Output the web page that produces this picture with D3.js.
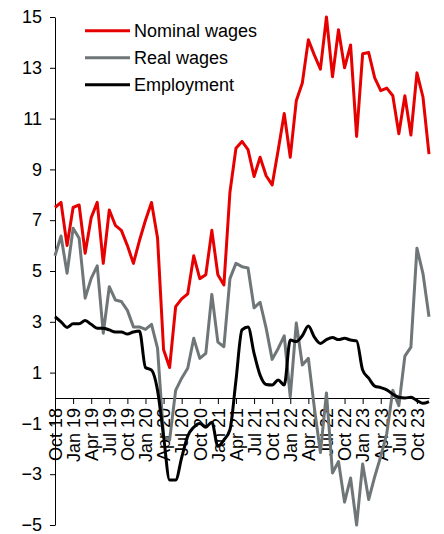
<!DOCTYPE html>
<html>
<head>
<meta charset="utf-8">
<script src="https://cdn.jsdelivr.net/npm/d3@7"></script>
<style>
  body { margin: 0; background: #fff; }
  svg { display: block; font-family: "Liberation Sans", Arial, sans-serif; }
  .axis text { font-size: 18px; fill: #000; font-family: "Liberation Sans", Arial, sans-serif; }
  .axis path, .axis line { stroke: #000; stroke-width: 1; }
  .legend text { font-size: 18px; fill: #000; }
</style>
</head>
<body>
<svg id="chart" width="444" height="534"></svg>
<script>
// monthly, Oct 2018 .. Dec 2023
var months = [
  "2018-10","2018-11","2018-12",
  "2019-01","2019-02","2019-03","2019-04","2019-05","2019-06","2019-07","2019-08","2019-09","2019-10","2019-11","2019-12",
  "2020-01","2020-02","2020-03","2020-04","2020-05","2020-06","2020-07","2020-08","2020-09","2020-10","2020-11","2020-12",
  "2021-01","2021-02","2021-03","2021-04","2021-05","2021-06","2021-07","2021-08","2021-09","2021-10","2021-11","2021-12",
  "2022-01","2022-02","2022-03","2022-04","2022-05","2022-06","2022-07","2022-08","2022-09","2022-10","2022-11","2022-12",
  "2023-01","2023-02","2023-03","2023-04","2023-05","2023-06","2023-07","2023-08","2023-09","2023-10","2023-11","2023-12"
]

var nominalWages = [7.5, 7.7, 6.0, 7.5, 7.6, 5.7, 7.1, 7.7, 5.3, 7.4,
  6.8, 6.6, 6.0, 5.3, 6.2, 7.0, 7.7, 6.3, 1.9, 1.2,
  3.6, 3.9, 4.1, 5.6, 4.7, 4.85, 6.6, 4.85, 4.45, 8.1,
  9.83, 10.1, 9.78, 8.72, 9.48, 8.75, 8.39, 9.76, 11.2, 9.48,
  11.7, 12.4, 14.1, 13.5, 12.95, 15.0, 12.65, 14.5, 13.0, 13.9,
  10.3, 13.55, 13.6, 12.6, 12.1, 12.2, 11.9, 10.4, 11.9, 10.35,
  12.8, 11.85, 9.6]

var realWages = [5.6, 6.38, 4.91, 6.68, 6.29, 3.93, 4.71, 5.2, 2.55, 4.38,
  3.86, 3.8, 3.45, 2.8, 2.8, 2.7, 2.9, 1.95, -1.52, -1.65,
  0.3, 0.78, 1.17, 2.35, 1.56, 1.76, 4.08, 2.2, 2.02, 4.7,
  5.3, 5.17, 5.12, 3.55, 3.77, 2.75, 1.52, 1.95, 2.45, 0.05,
  2.95, 1.3, 1.56, -0.4, -2.15, 0.2, -2.95, -2.5, -4.1, -3.15,
  -5.0, -2.6, -4.0, -3.1, -2.3, -1.4, 0.3, -0.3, 1.65, 2.0,
  5.9, 4.9, 3.2]

var employment = [3.2, 3.0, 2.78, 2.92, 2.92, 3.05, 2.9, 2.75, 2.75, 2.68,
  2.6, 2.6, 2.52, 2.6, 2.64, 1.2, 1.1, 0.3, -1.5, -3.23,
  -3.23, -2.35, -1.5, -1.15, -1.0, -1.15, -0.95, -1.9, -1.65, -1.25,
  0.7, 2.68, 2.8, 1.76, 0.9, 0.53, 0.51, 0.71, 0.51, 2.28,
  2.22, 2.45, 2.83, 2.4, 2.15, 2.3, 2.38, 2.3, 2.35, 2.28,
  2.25, 1.1, 0.78, 0.47, 0.41, 0.32, 0.15, 0.03, 0.0, 0.03,
  -0.1, -0.21, -0.14]

var tickMonths = ["2018-10","2019-01","2019-04","2019-07","2019-10","2020-01","2020-04","2020-07","2020-10",
  "2021-01","2021-04","2021-07","2021-10","2022-01","2022-04","2022-07","2022-10","2023-01","2023-04","2023-07","2023-10"]
var tickLabels = ["Oct 18","Jan 19","Apr 19","Jul 19","Oct 19","Jan 20","Apr 20","Jul 20","Oct 20",
  "Jan 21","Apr 21","Jul 21","Oct 21","Jan 22","Apr 22","Jul 22","Oct 22","Jan 23","Apr 23","Jul 23","Oct 23"]
var yTicks = [-5, -3, -1, 1, 3, 5, 7, 9, 11, 13, 15]

var seriesNames = ["Nominal wages", "Real wages", "Employment"]
var seriesColors = ["#e60000", "#6f7678", "#000000"]

var svg = d3.select("#chart")

var xScale = d3.scalePoint()
    .domain(months)
    .range([55, 429]);

var yScale = d3.scaleLinear()
    .domain([-5, 15])
    .range([525, 17]);

// y axis
var yAxis = d3.axisLeft(yScale)
    .tickValues(yTicks)
    .tickSize(5)
    .tickSizeOuter(0)
    .tickPadding(8);

svg.append("g")
    .attr("class", "axis yaxis")
    .attr("transform", "translate(55,0)")
    .call(yAxis);

// x axis sits on zero
var xAxis = d3.axisBottom(xScale)
    .tickValues(tickMonths)
    .tickSize(6)
    .tickSizeOuter(0)
    .tickFormat((d, i) => tickLabels[i]);

var xg = svg.append("g")
    .attr("class", "axis xaxis")
    .attr("transform", "translate(0," + yScale(0) + ")")
    .call(xAxis);

xg.selectAll("text")
    .attr("transform", "rotate(-90)")
    .attr("x", -10)
    .attr("y", 0)
    .attr("dy", "0.35em")
    .style("text-anchor", "end");

// lines
var allSeries = [nominalWages, realWages, employment]

allSeries.forEach(function(values, index) {
    var line = d3.line()
        .x((d, i) => xScale(months[i]))
        .y(d => yScale(d));
    if (index == 2) line.curve(d3.curveMonotoneX);

    svg.append("path")
        .datum(values)
        .attr("fill", "none")
        .attr("stroke", seriesColors[index])
        .attr("stroke-width", 3)
        .attr("stroke-linejoin", "round")
        .attr("d", line);
});

// legend
var legend = svg.append("g").attr("class", "legend");
seriesNames.forEach(function(name, index) {
    var ly = 30.7 + index * 27;
    legend.append("line")
        .attr("x1", 85).attr("x2", 130)
        .attr("y1", ly).attr("y2", ly)
        .attr("stroke", seriesColors[index])
        .attr("stroke-width", 3);
    legend.append("text")
        .attr("x", 134)
        .attr("y", ly + 6.5)
        .text(name);
});
</script>
</body>
</html>
